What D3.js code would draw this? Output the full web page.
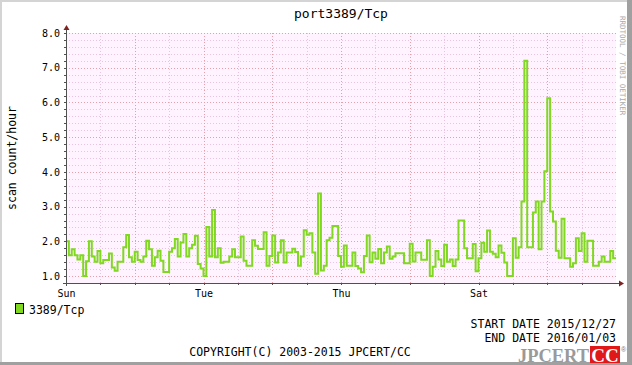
<!DOCTYPE html>
<html>
<head>
<meta charset="utf-8">
<script src="https://cdn.jsdelivr.net/npm/d3@7"></script>
<style>
  body { margin: 0; background: #fff; }
  svg { display: block; }
  text { font-family: "DejaVu Sans Mono", monospace; }
</style>
</head>
<body>
<svg id="chart" width="632" height="365"></svg>
<script>
const chartTitle = "port3389/Tcp";
const yLabel = "scan count/hour";
const seriesName = "3389/Tcp";
const startDate = "2015-12-27";
const endDate = "2016-01-04";
const dayLabels = ["2015-12-27", "2015-12-29", "2015-12-31", "2016-01-02"];
const yTicks = [1, 2, 3, 4, 5, 6, 7, 8];
const dateLines = ["START DATE 2015/12/27", "END DATE 2016/01/03"];
const copyright = "COPYRIGHT(C) 2003-2015 JPCERT/CC";

// hourly values
const scans = [
  2.0, 1.6, 1.77, 1.6, 1.48, 1.6, 1.0, 1.43, 2.0, 1.56, 1.41, 1.72, 1.37, 1.46, 1.46, 1.65,
  1.25, 1.15, 1.41, 1.41, 1.83, 2.18, 1.54, 1.41, 1.7, 1.46, 1.41, 1.56, 2.02, 1.77, 1.3, 1.54,
  1.73, 1.44, 1.12, 1.12, 1.7, 1.8, 2.07, 1.56, 1.97, 2.21, 1.56, 1.8, 1.9, 2.16, 1.35, 1.22,
  1.0, 2.41, 1.56, 2.9, 1.54, 1.8, 1.38, 1.41, 1.41, 1.56, 1.77, 1.54, 1.54, 2.14, 1.44, 1.3,
  1.3, 2.03, 1.87, 1.78, 1.78, 2.26, 1.3, 1.58, 2.17, 1.39, 1.68, 2.03, 1.39, 1.68, 1.68, 1.79,
  1.69, 1.3, 1.56, 2.32, 2.19, 2.23, 1.68, 1.07, 3.38, 1.16, 1.3, 2.03, 2.1, 2.44, 2.44, 1.58,
  1.27, 1.88, 1.3, 1.3, 1.68, 1.29, 1.22, 1.11, 1.58, 2.17, 1.4, 1.68, 1.5, 1.78, 1.37, 1.68,
  1.85, 1.5, 1.56, 1.66, 1.66, 1.66, 1.37, 1.37, 1.93, 1.42, 1.68, 1.68, 1.47, 1.47, 2.03, 1.0,
  1.27, 1.72, 1.48, 1.29, 1.9, 1.41, 1.48, 1.29, 1.48, 2.6, 2.6, 1.8, 1.51, 1.51, 1.92, 1.14,
  1.51, 1.96, 1.7, 2.31, 1.7, 1.64, 1.54, 1.88, 1.67, 1.39, 1.0, 1.0, 2.09, 1.53, 1.83, 3.15,
  7.2, 1.83, 1.83, 2.83, 3.15, 1.77, 3.15, 4.02, 6.12, 2.86, 2.57, 1.73, 1.53, 2.65, 1.51, 1.51,
  1.27, 1.37, 2.09, 1.72, 2.23, 1.41, 2.02, 2.02, 1.3, 1.3, 1.41, 1.56, 1.41, 1.41, 1.72, 1.51
];

const svg = d3.select("#chart"),
  width = +svg.attr("width"),
  height = +svg.attr("height"),
  margin = {top: 33, right: 16, bottom: 82, left: 66},
  lineColor = "#80d820",
  axisColor = "#505050",
  arrowColor = "#802020",
  minorGrid = "#eac4de",
  majorGrid = "#e8a0a8";

const parse = d3.timeParse("%Y-%m-%d");
const t0 = parse(startDate), t1 = parse(endDate);

const data = scans.map((v, i) => ({t: d3.timeHour.offset(t0, i), v: v}));
data.push({t: t1, v: scans[scans.length - 1]});

const x = d3.scaleTime().domain([t0, t1]).range([margin.left, width - margin.right]);
const y = d3.scaleLinear().domain([0.8, 8]).range([height - margin.bottom, margin.top]);

// canvas + 3d frame
svg.append("rect").attr("width", width).attr("height", height).attr("fill", "#fff");
svg.append("rect").attr("x", 0).attr("y", 0).attr("width", width).attr("height", 2).attr("fill", "#d4d4d4");
svg.append("rect").attr("x", 0).attr("y", 0).attr("width", 2).attr("height", height).attr("fill", "#d4d4d4");
svg.append("rect").attr("x", width - 5).attr("y", 0).attr("width", 5).attr("height", height).attr("fill", "#a0a0a0");
svg.append("rect").attr("x", 0).attr("y", height - 3).attr("width", width).attr("height", 3).attr("fill", "#a0a0a0");

// plot background
svg.append("rect")
  .attr("x", x.range()[0]).attr("y", y.range()[1])
  .attr("width", x.range()[1] - x.range()[0])
  .attr("height", y.range()[0] - y.range()[1])
  .attr("fill", "#fff3ff");

const grid = svg.append("g").attr("shape-rendering", "crispEdges");

const hMinor = d3.range(1.0, 8.01, 0.2).filter(v => Math.abs(v - Math.round(v)) > 0.01);
grid.selectAll(".hmin").data(hMinor).enter().append("line")
  .attr("x1", x.range()[0]).attr("x2", x.range()[1])
  .attr("y1", d => Math.round(y(d)) + 0.5).attr("y2", d => Math.round(y(d)) + 0.5)
  .attr("stroke", minorGrid).attr("stroke-dasharray", "1,2");

const vMinor = d3.timeHour.every(12).range(t0, t1).filter(d => d.getHours() === 12);
grid.selectAll(".vmin").data(vMinor).enter().append("line")
  .attr("x1", d => Math.round(x(d)) + 0.5).attr("x2", d => Math.round(x(d)) + 0.5)
  .attr("y1", y.range()[0]).attr("y2", y.range()[1])
  .attr("stroke", minorGrid).attr("stroke-dasharray", "1,2");

grid.selectAll(".hmaj").data(yTicks).enter().append("line")
  .attr("x1", x.range()[0]).attr("x2", x.range()[1])
  .attr("y1", d => Math.round(y(d)) + 0.5).attr("y2", d => Math.round(y(d)) + 0.5)
  .attr("stroke", majorGrid).attr("stroke-dasharray", "1,2");

const vMajor = d3.timeDay.range(d3.timeDay.offset(t0, 1), t1);
grid.selectAll(".vmaj").data(vMajor).enter().append("line")
  .attr("x1", d => Math.round(x(d)) + 0.5).attr("x2", d => Math.round(x(d)) + 0.5)
  .attr("y1", y.range()[0]).attr("y2", y.range()[1])
  .attr("stroke", majorGrid).attr("stroke-dasharray", "1,2");

// series
const line = d3.line()
  .curve(d3.curveStepAfter)
  .x(d => x(d.t))
  .y(d => y(d.v));

svg.append("path")
  .datum(data)
  .attr("d", line)
  .attr("fill", "none")
  .attr("stroke", lineColor)
  .attr("stroke-width", 2);

// axes
const yAxis = svg.append("g")
  .attr("transform", "translate(" + x.range()[0] + ",0)")
  .call(d3.axisLeft(y).tickValues(yTicks).tickSize(0).tickPadding(6).tickFormat(d3.format(".1f")));
yAxis.select(".domain").remove();
yAxis.selectAll("text").attr("font-size", 10).attr("fill", "#000")
  .style("font-family", "DejaVu Sans Mono");

const xAxis = svg.append("g")
  .attr("transform", "translate(0," + y.range()[0] + ")")
  .call(d3.axisBottom(x).tickValues(dayLabels.map(parse)).tickSize(0).tickPadding(7)
    .tickFormat(d3.timeFormat("%a")));
xAxis.select(".domain").remove();
xAxis.selectAll("text").attr("font-size", 10).attr("fill", "#000")
  .style("font-family", "DejaVu Sans Mono");

const ticks = svg.append("g").attr("stroke", axisColor).attr("shape-rendering", "crispEdges");
ticks.selectAll(".yt").data(hMinor.concat(yTicks)).enter().append("line")
  .attr("x1", x.range()[0] - 2).attr("x2", x.range()[0])
  .attr("y1", d => Math.round(y(d)) + 0.5).attr("y2", d => Math.round(y(d)) + 0.5);
ticks.selectAll(".xt").data(vMinor.concat(vMajor)).enter().append("line")
  .attr("x1", d => Math.round(x(d)) + 0.5).attr("x2", d => Math.round(x(d)) + 0.5)
  .attr("y1", y.range()[0]).attr("y2", y.range()[0] + 2);

svg.append("line")
  .attr("x1", x.range()[0] + 0.5).attr("x2", x.range()[0] + 0.5)
  .attr("y1", y.range()[0] + 3).attr("y2", y.range()[1] - 4)
  .attr("stroke", axisColor).attr("shape-rendering", "crispEdges");
svg.append("line")
  .attr("x1", x.range()[0] - 3).attr("x2", x.range()[1] + 4)
  .attr("y1", y.range()[0] + 0.5).attr("y2", y.range()[0] + 0.5)
  .attr("stroke", axisColor).attr("shape-rendering", "crispEdges");

const ax = x.range()[0] + 0.5, ay = y.range()[1] - 8;
svg.append("polygon")
  .attr("points", (ax - 3) + "," + (ay + 5) + " " + ax + "," + ay + " " + (ax + 3) + "," + (ay + 5))
  .attr("fill", arrowColor);
const bx = x.range()[1] + 8, by = y.range()[0] + 0.5;
svg.append("polygon")
  .attr("points", (bx - 5) + "," + (by - 3) + " " + bx + "," + by + " " + (bx - 5) + "," + (by + 3))
  .attr("fill", arrowColor);

// titles
svg.append("text")
  .attr("x", (x.range()[0] + x.range()[1]) / 2).attr("y", 18)
  .attr("text-anchor", "middle").attr("font-size", 13).text(chartTitle);

svg.append("text")
  .attr("transform", "translate(16," + (y(4.4)) + ") rotate(-90)")
  .attr("text-anchor", "middle").attr("font-size", 11.5).text(yLabel);

svg.append("text")
  .attr("transform", "translate(620,16) rotate(90)")
  .attr("font-size", 7.5).attr("fill", "#aaa").text("RRDTOOL / TOBI OETIKER");

// legend
svg.append("rect")
  .attr("x", 15.5).attr("y", 303.5).attr("width", 8).attr("height", 10)
  .attr("fill", lineColor).attr("stroke", "#000");
svg.append("text").attr("x", 29).attr("y", 314).attr("font-size", 11.5).text(seriesName);

svg.selectAll(".dates").data(dateLines).enter().append("text")
  .attr("x", 616).attr("y", (d, i) => 328 + i * 14)
  .attr("text-anchor", "end").attr("font-size", 11.5).text(d => d);

svg.append("text").attr("x", 300).attr("y", 356)
  .attr("text-anchor", "middle").attr("font-size", 11.5).text(copyright);

// logo
svg.append("text").attr("x", 518).attr("y", 362)
  .style("font-family", "Liberation Serif").attr("font-weight", "bold")
  .attr("font-size", 19).attr("fill", "#9a9a9a")
  .attr("textLength", 71).attr("lengthAdjust", "spacingAndGlyphs").text("JPCERT");
svg.append("rect").attr("x", 590).attr("y", 346).attr("width", 30).attr("height", 17)
  .attr("fill", "#e01818");
svg.append("text").attr("x", 605).attr("y", 362).attr("text-anchor", "middle")
  .style("font-family", "Liberation Serif").attr("font-weight", "bold")
  .attr("font-size", 19).attr("fill", "#fff").text("CC");
svg.append("text").attr("x", 621).attr("y", 352)
  .style("font-family", "Liberation Sans").attr("font-size", 7).attr("fill", "#777").text("®");
</script>
</body>
</html>
